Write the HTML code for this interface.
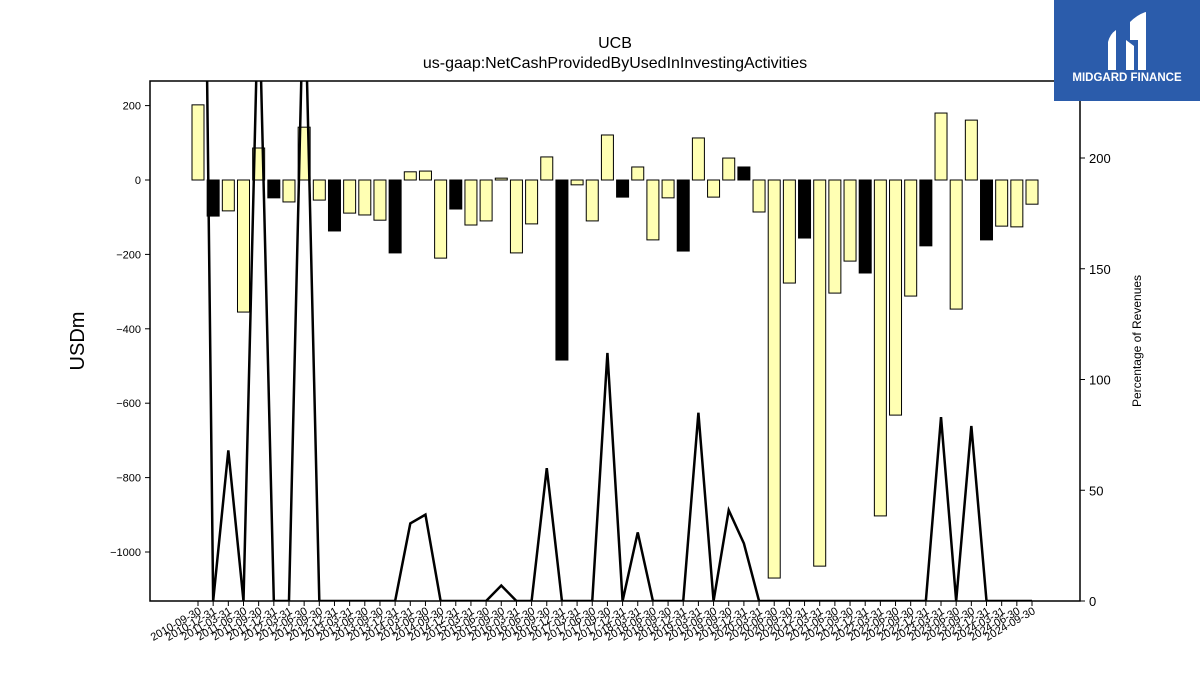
<!DOCTYPE html>
<html><head><meta charset="utf-8"><style>
body{margin:0;background:#fff;}
svg{display:block;font-family:"Liberation Sans","DejaVu Sans",sans-serif;}
</style></head><body>
<svg id="chart" width="1200" height="675" viewBox="0 0 1200 675">
<text x="615" y="48" text-anchor="middle" font-size="16">UCB</text>
<text x="615" y="68" text-anchor="middle" font-size="16">us-gaap:NetCashProvidedByUsedInInvestingActivities</text>
<text transform="translate(84,341) rotate(-90)" text-anchor="middle" font-size="20">USDm</text>
<text transform="translate(1141,341) rotate(-90)" text-anchor="middle" font-size="12">Percentage of Revenues</text>
<g id="bars"></g>
<g id="line"></g>
<g id="axes"></g>
<g>
<rect x="1054" y="0" width="146" height="101" fill="#2b5cab"/>
<path d="M1108 62 L1108 42 Q1110 34 1116 30 L1116 70 L1108 70 Z M1126 40 L1126 70 L1134 70 L1134 46 Z M1130 40 L1130 22 Q1138 14 1146 12 L1146 70 L1138 70 L1138 40 Z" fill="#fff"/>
<text x="1127" y="81" text-anchor="middle" font-size="11.5" font-weight="bold" fill="#fff">MIDGARD FINANCE</text>
</g>
</svg>
<script>
const labels=["2010-09-30","2010-12-31","2011-03-31","2011-06-30","2011-09-30","2011-12-31","2012-03-31","2012-06-30","2012-09-30","2012-12-31","2013-03-31","2013-06-30","2013-09-30","2013-12-31","2014-03-31","2014-06-30","2014-09-30","2014-12-31","2015-03-31","2015-06-30","2015-09-30","2016-03-31","2016-06-30","2016-09-30","2016-12-31","2017-03-31","2017-06-30","2017-09-30","2017-12-31","2018-03-31","2018-06-30","2018-09-30","2018-12-31","2019-03-31","2019-06-30","2019-09-30","2019-12-31","2020-03-31","2020-06-30","2020-09-30","2020-12-31","2021-03-31","2021-06-30","2021-09-30","2021-12-31","2022-03-31","2022-06-30","2022-09-30","2022-12-31","2023-03-31","2023-06-30","2023-09-30","2023-12-31","2024-03-31","2024-06-30","2024-09-30"];
const cashValues=[202,-97,-83,-355,86,-48,-59,142,-54,-137,-89,-94,-108,-196,22,24,-210,-78,-121,-110,5,-196,-118,62,-484,-13,-110,121,-46,35,-161,-48,-191,113,-46,59,35,-86,-1070,-277,-156,-1038,-304,-218,-250,-903,-632,-312,-177,180,-347,161,-161,-124,-126,-65];
const annualFlags=[0,1,0,0,0,1,0,0,0,1,0,0,0,1,0,0,0,1,0,0,0,0,0,0,1,0,0,0,1,0,0,0,1,0,0,0,1,0,0,0,1,0,0,0,1,0,0,0,1,0,0,0,1,0,0,0];
const pctValues=[590,0,68,0,280,0,0,290,0,0,0,0,0,0,35,39,0,0,0,0,7,0,0,60,0,0,0,112,0,31,0,0,0,85,0,41,26,0,0,0,0,0,0,0,0,0,0,0,0,83,0,79,0,0,0,0];
const leftTicks=[200,0,-200,-400,-600,-800,-1000];
const rightTicks=[0,50,100,150,200];

const NS="http://www.w3.org/2000/svg";
const X0=150,X1=1080,Y0=81,Y1=601;
const xPos=i=>198+i*(1032-198)/(labels.length-1);
const yL=v=>180-v*0.372;
const yR=v=>601-v*2.215;
function mk(tag,attrs,parent){const e=document.createElementNS(NS,tag);for(const k in attrs)e.setAttribute(k,attrs[k]);parent.appendChild(e);return e;}
const gB=document.getElementById('bars'),gL=document.getElementById('line'),gA=document.getElementById('axes');
const bw=12;
cashValues.forEach((v,i)=>{
  const y=Math.min(yL(v),yL(0)),h=Math.abs(yL(v)-yL(0));
  const r=mk('rect',{x:xPos(i)-bw/2,y:y,width:bw,height:Math.max(h,0.5),fill:annualFlags[i]?'#000':'#ffffb3',stroke:'#000','stroke-width':1},gB);
  
  
});
const cp=mk('clipPath',{id:'clip'},gL);mk('rect',{x:X0,y:Y0,width:X1-X0,height:Y1-Y0},cp);
const pts=pctValues.map((v,i)=>xPos(i)+','+yR(v)).join(' ');
const pl=mk('polyline',{points:pts,fill:'none',stroke:'#000','stroke-width':2.5,'clip-path':'url(#clip)'},gL);


const fr=mk('rect',{x:X0,y:Y0,width:X1-X0,height:Y1-Y0,fill:'none',stroke:'#000','stroke-width':1.5},gA);


leftTicks.forEach(t=>{
  const y=yL(t);
  mk('line',{x1:X0-5,x2:X0,y1:y,y2:y,stroke:'#000'},gA);
  const tx=mk('text',{x:X0-9,y:y+4,'text-anchor':'end','font-size':11},gA);
  tx.textContent=t<0?'\u2212'+Math.abs(t):String(t);
  
  
});
rightTicks.forEach(t=>{
  const y=yR(t);
  mk('line',{x1:X1,x2:X1+5,y1:y,y2:y,stroke:'#000'},gA);
  const tx=mk('text',{x:X1+9,y:y+5,'font-size':13},gA);
  tx.textContent=String(t);
  
  
});
labels.forEach((l,i)=>{
  const x=xPos(i);
  mk('line',{x1:x,x2:x,y1:Y1,y2:Y1+5,stroke:'#000'},gA);
  const tx=mk('text',{transform:`translate(${x+4},${Y1+12}) rotate(-30)`,'text-anchor':'end','font-size':11},gA);
  tx.textContent=l;
  
  
});
</script>
</body></html>
